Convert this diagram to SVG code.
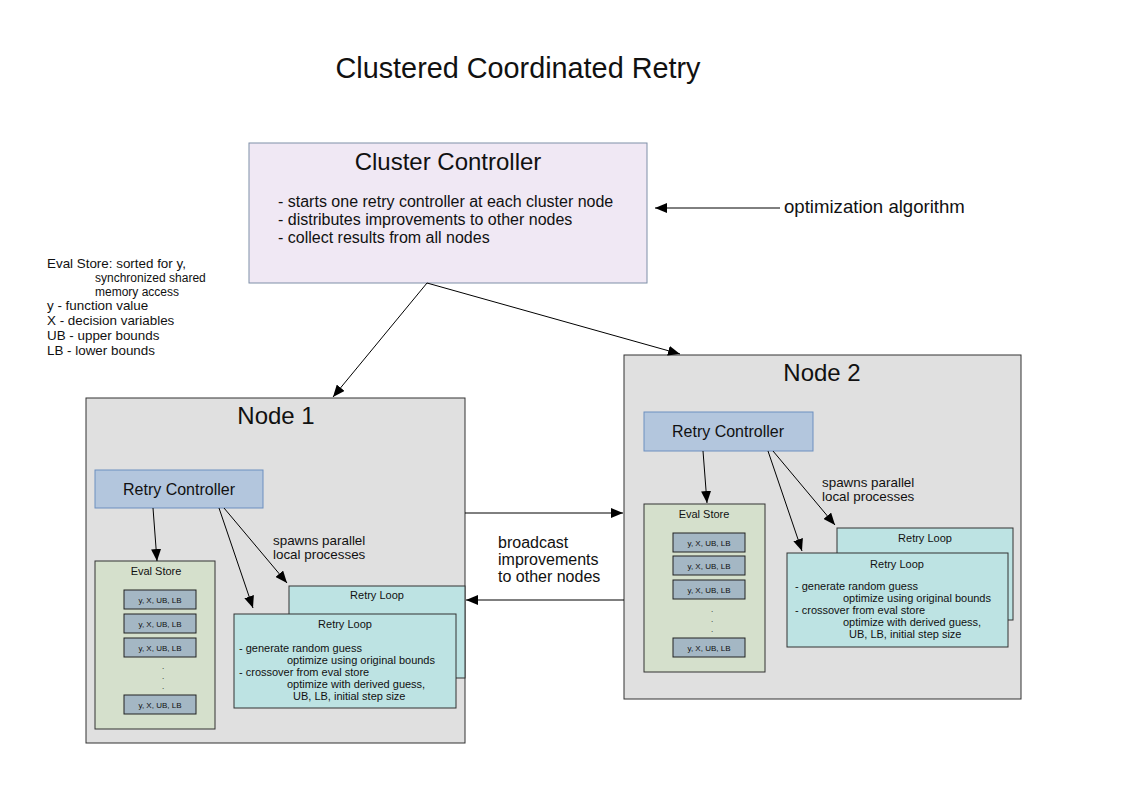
<svg xmlns="http://www.w3.org/2000/svg" width="1123" height="794" viewBox="0 0 1123 794">
<style>
text{font-family:"Liberation Sans",Arial,sans-serif;fill:#111}
.node{fill:#e0e0e0;stroke:#333;stroke-width:1}
.rc{fill:#b3c6dd;stroke:#6d8fbf;stroke-width:1}
.es{fill:#d5e0cc;stroke:#333;stroke-width:1}
.cell{fill:#a4b7c4;stroke:#222;stroke-width:1}
.rl{fill:#bde3e3;stroke:#333;stroke-width:1}
.ct{font-size:8px;text-anchor:middle}
.c{text-anchor:middle}
.lg{font-size:13.4px}
.lgs{font-size:12px}
.sp{font-size:13.4px}
.con line{stroke:#000;stroke-width:1;marker-end:url(#ah)}
</style>
<defs>
<marker id="ah" viewBox="0 0 12 10" refX="12" refY="5" markerWidth="12" markerHeight="10" markerUnits="userSpaceOnUse" orient="auto">
<path d="M0,0 L12,5 L0,10 z" fill="#000"/>
</marker>
</defs>
<rect width="1123" height="794" fill="#fff"/>
<text x="518" y="78" class="c" font-size="28.8">Clustered Coordinated Retry</text>

<g id="legend">
<text x="47" y="268" class="lg">Eval Store: sorted for y,</text>
<text x="95" y="282" class="lgs">synchronized shared</text>
<text x="95" y="296" class="lgs">memory access</text>
<text x="47" y="310" class="lg">y - function value</text>
<text x="47" y="325" class="lg">X - decision variables</text>
<text x="47" y="340" class="lg">UB - upper bounds</text>
<text x="47" y="355" class="lg">LB - lower bounds</text>
</g>

<g id="cluster-controller">
<rect x="249" y="143" width="398" height="140" fill="#f0e8f4" stroke="#7f8fa8"/>
<text x="448" y="170" class="c" font-size="24">Cluster Controller</text>
<text x="278" y="207" font-size="16">- starts one retry controller at each cluster node</text>
<text x="278" y="225" font-size="16">- distributes improvements to other nodes</text>
<text x="278" y="243" font-size="16">- collect results from all nodes</text>
</g>

<g id="optimization-algorithm">
<text x="784" y="213" font-size="18.6">optimization algorithm</text>
</g>

<g id="node1">
<rect x="86" y="398" width="379" height="345" class="node"/>
<text x="276" y="424" class="c" font-size="24">Node 1</text>
</g>
<g id="node1-retry-controller">
<rect x="95" y="470" width="168" height="38" class="rc"/>
<text x="179" y="495" class="c" font-size="16">Retry Controller</text>
</g>
<g id="node1-eval-store">
<rect x="95" y="561" width="120" height="168" class="es"/>
<text x="156" y="575" class="c" font-size="11">Eval Store</text>
<rect x="124" y="590" width="72" height="19" class="cell"/><text x="160" y="603" class="ct">y, X, UB, LB</text>
<rect x="124" y="614" width="72" height="19" class="cell"/><text x="160" y="627" class="ct">y, X, UB, LB</text>
<rect x="124" y="638" width="72" height="19" class="cell"/><text x="160" y="651" class="ct">y, X, UB, LB</text>
<text x="163" y="669" class="ct">.</text><text x="163" y="679" class="ct">.</text><text x="163" y="689" class="ct">.</text>
<rect x="124" y="695" width="72" height="19" class="cell"/><text x="160" y="708" class="ct">y, X, UB, LB</text>
</g>
<g id="node1-retry-loop-back">
<rect x="289" y="586" width="176" height="92" class="rl"/>
<text x="377" y="599" class="c" font-size="11">Retry Loop</text>
</g>
<g id="node1-retry-loop">
<rect x="234" y="614" width="222" height="94" class="rl"/>
<text x="345" y="628" class="c" font-size="11">Retry Loop</text>
<text x="239" y="652" font-size="11">- generate random guess</text>
<text x="287" y="664" font-size="11">optimize using original bounds</text>
<text x="239" y="676" font-size="11">- crossover from eval store</text>
<text x="287" y="688" font-size="11">optimize with derived guess,</text>
<text x="293" y="700" font-size="11">UB, LB, initial step size</text>
</g>
<text x="273" y="545" class="sp">spawns parallel</text>
<text x="273" y="559" class="sp">local processes</text>

<g id="node2">
<rect x="624" y="355" width="397" height="344" class="node"/>
<text x="822" y="381" class="c" font-size="24">Node 2</text>
</g>
<g id="node2-retry-controller">
<rect x="644" y="412" width="169" height="39" class="rc"/>
<text x="728" y="437" class="c" font-size="16">Retry Controller</text>
</g>
<g id="node2-eval-store">
<rect x="644" y="504" width="121" height="168" class="es"/>
<text x="704" y="518" class="c" font-size="11">Eval Store</text>
<rect x="673" y="533" width="72" height="19" class="cell"/><text x="709" y="546" class="ct">y, X, UB, LB</text>
<rect x="673" y="556" width="72" height="19" class="cell"/><text x="709" y="569" class="ct">y, X, UB, LB</text>
<rect x="673" y="580" width="72" height="19" class="cell"/><text x="709" y="593" class="ct">y, X, UB, LB</text>
<text x="712" y="612" class="ct">.</text><text x="712" y="622" class="ct">.</text><text x="712" y="632" class="ct">.</text>
<rect x="673" y="638" width="72" height="19" class="cell"/><text x="709" y="651" class="ct">y, X, UB, LB</text>
</g>
<g id="node2-retry-loop-back">
<rect x="837" y="528" width="176" height="92" class="rl"/>
<text x="925" y="542" class="c" font-size="11">Retry Loop</text>
</g>
<g id="node2-retry-loop">
<rect x="787" y="553" width="221" height="94" class="rl"/>
<text x="897" y="568" class="c" font-size="11">Retry Loop</text>
<text x="795" y="590" font-size="11">- generate random guess</text>
<text x="843" y="602" font-size="11">optimize using original bounds</text>
<text x="795" y="614" font-size="11">- crossover from eval store</text>
<text x="843" y="626" font-size="11">optimize with derived guess,</text>
<text x="849" y="638" font-size="11">UB, LB, initial step size</text>
</g>
<text x="822" y="487" class="sp">spawns parallel</text>
<text x="822" y="501" class="sp">local processes</text>

<text x="498" y="548" font-size="16">broadcast</text>
<text x="498" y="565" font-size="16">improvements</text>
<text x="498" y="582" font-size="16">to other nodes</text>

<g id="connectors" class="con">
<line x1="780" y1="208" x2="655" y2="208"/>
<line x1="427" y1="283" x2="333" y2="397"/>
<line x1="427" y1="283" x2="680" y2="354"/>
<line x1="153" y1="508" x2="157" y2="561"/>
<line x1="219" y1="508" x2="253" y2="608"/>
<line x1="224" y1="508" x2="287" y2="583"/>
<line x1="703" y1="451" x2="707" y2="503"/>
<line x1="768" y1="451" x2="802" y2="551"/>
<line x1="773" y1="451" x2="835" y2="525"/>
<line x1="465" y1="513" x2="623" y2="513"/>
<line x1="624" y1="600" x2="466" y2="600"/>
</g>
</svg>
